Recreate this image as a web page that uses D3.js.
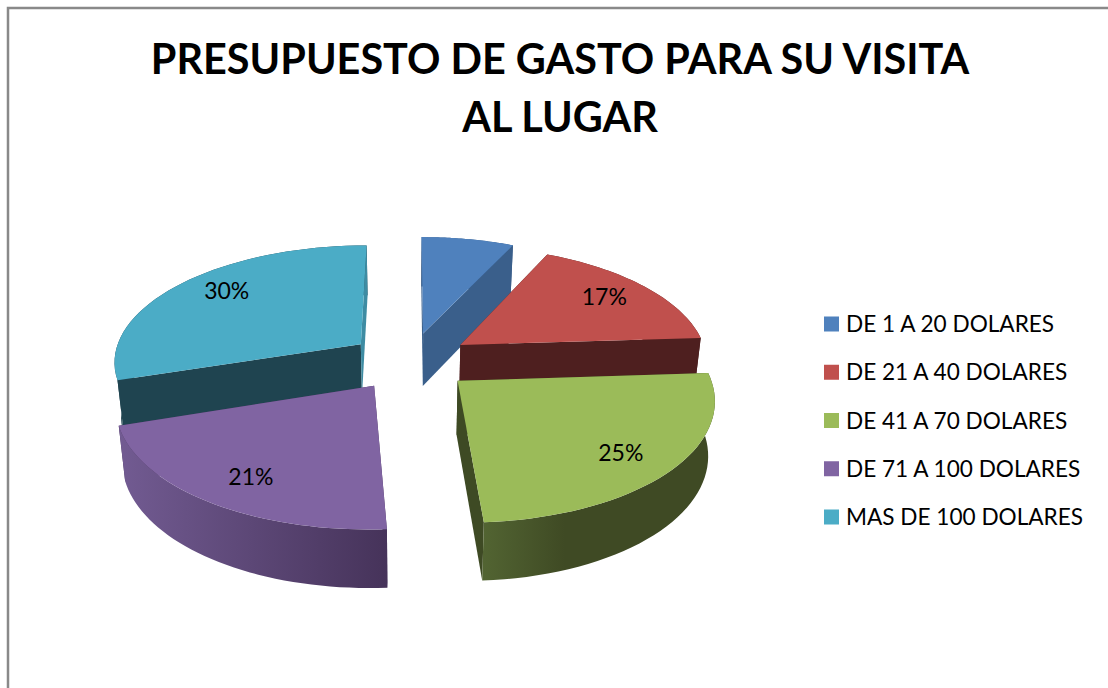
<!DOCTYPE html>
<html>
<head>
<meta charset="utf-8">
<script src="https://cdn.jsdelivr.net/npm/d3@7"></script>
<style>
  html, body { margin: 0; padding: 0; background: #fff; overflow: hidden; }
  text { font-family: Lato, "Open Sans", sans-serif; fill: #000; }
</style>
</head>
<body>
<div class="pie-chart"></div>
<script>
const categories = ['DE 1 A 20 DOLARES', 'DE 21 A 40 DOLARES', 'DE 41 A 70 DOLARES', 'DE 71 A 100 DOLARES', 'MAS DE 100 DOLARES']
const values = [7, 17, 25, 21, 30]
// the blue slice has no label in the original
const labels = [null, '17%', '25%', '21%', '30%']
const titleLines = ['PRESUPUESTO DE GASTO PARA SU VISITA', 'AL LUGAR']

const topColors = ['#4f81bd', '#c0504d', '#9bbb59', '#8064a2', '#4bacc6']
const cutColors = ['#3a5f8b', '#4e1f1f', '#3e4a24', '#46335a', '#1f4450']
const edgeColors = ['#3a5f8b', '#4e1f1f', '#3e4a24', '#46335a', '#3e8ca3']
const arcStops = [
  ['#3a5f8b', '#3a5f8b'],
  ['#4e1f1f', '#4e1f1f'],
  ['#526432', '#3f4a24'],
  ['#725b92', '#46335a'],
  ['#1f4450', '#1f4450'],
]
const labelNudge = [[0, 0], [-5, 0], [-5, 3], [7, 1], [11, -4]]

const width = 1108
const height = 688

// fake 3d: tilted plane seen through a weak perspective
const cx = 410
const cy = 361
const radius = 248
const explode = 62
const sinT = 0.47
const cosT = Math.sqrt(1 - sinT * sinT)
const camera = 1600
const wallH = 53.5
const converge = 0.022

const scaleAt = (Y) => camera / (camera + Y * cosT)

const project = (X, Y) => {
  const s = scaleAt(Y)
  return {x: cx + X * s, y: cy - Y * sinT * s, s}
}

const lower = (p) => ({
  x: cx + (p.x - cx) * (1 - converge),
  y: p.y + wallH * Math.pow(p.s, 0.5),
})

const svg = d3.select('.pie-chart')
  .append('svg')
    .attr('width', width)
    .attr('height', height)
    .style('display', 'block')

// frame runs off the right and bottom of the picture
svg.append('rect')
  .attr('x', 8)
  .attr('y', 8)
  .attr('width', width + 20)
  .attr('height', height + 20)
  .style('fill', 'none')
  .style('stroke', '#898989')
  .style('stroke-width', 2.5)

svg.selectAll('.title')
    .data(titleLines)
  .enter().append('text')
    .attr('class', 'title')
    .attr('x', 560)
    .attr('y', (d, i) => 74 + i * 58)
    .attr('text-anchor', 'middle')
    .style('font-weight', 700)
    .style('font-size', '41.4px')
    .text((d) => d)

const line = d3.line().x((p) => p.x).y((p) => p.y)

const slices = d3.pie().sort(null).startAngle(0).endAngle(2 * Math.PI)(values)
  .map((d, i) => {
    const mid = (d.startAngle + d.endAngle) / 2
    const ox = explode * Math.sin(mid)
    const oy = explode * Math.cos(mid)
    const at = (r, a) => project(ox + r * Math.sin(a), oy + r * Math.cos(a))
    const steps = d3.range(0, 41).map((t) => d.startAngle + (d.endAngle - d.startAngle) * t / 40)
    return {i, mid, oy, at, steps}
  })

const defs = svg.append('defs')

// back slices first so the front ones cover them
const ordered = d3.sort(slices, (a, b) => d3.descending(a.oy, b.oy))

const groups = svg.selectAll('.slice')
    .data(ordered)
  .enter().append('g')
    .attr('class', 'slice')

groups.each(function (d) {
  const g = d3.select(this)
  const vertex = d.at(0, 0)
  const rim = d.steps.map((a) => d.at(radius, a))
  const a0 = rim[0]
  const a1 = rim[rim.length - 1]

  const grad = defs.append('linearGradient')
    .attr('id', `wall-${d.i}`)
    .attr('gradientUnits', 'userSpaceOnUse')
    .attr('x1', d3.min(rim, (p) => p.x))
    .attr('x2', d3.max(rim, (p) => p.x))
    .attr('y1', 0)
    .attr('y2', 0)
  grad.append('stop').attr('offset', 0).attr('stop-color', arcStops[d.i][0])
  grad.append('stop').attr('offset', d.i === 2 ? 0.35 : 1).attr('stop-color', arcStops[d.i][1])

  const drawCut0 = () => g.append('path')
    .attr('d', line([vertex, a0, lower(a0), lower(vertex)]) + 'Z')
    .style('fill', cutColors[d.i])
  const drawCut1 = () => g.append('path')
    .attr('d', line([vertex, a1, lower(a1), lower(vertex)]) + 'Z')
    .style('fill', edgeColors[d.i])
  const drawRim = () => g.append('path')
    .attr('d', line(rim.concat(rim.map(lower).reverse())) + 'Z')
    .style('fill', `url(#wall-${d.i})`)

  // the outer wall faces us on front slices and away on back ones
  if (d.oy > 0) {
    drawRim()
    drawCut0()
    drawCut1()
  } else {
    drawCut0()
    drawCut1()
    drawRim()
  }

  g.append('path')
    .attr('d', line([vertex].concat(rim)) + 'Z')
    .style('fill', topColors[d.i])
})

// percent labels sit on top of every slice
svg.selectAll('.pct')
    .data(slices.filter((d) => labels[d.i]))
  .enter().append('text')
    .attr('class', 'pct')
    .attr('x', (d) => d.at(radius * 0.8, d.mid).x + labelNudge[d.i][0])
    .attr('y', (d) => d.at(radius * 0.8, d.mid).y + 8 + labelNudge[d.i][1])
    .attr('text-anchor', 'middle')
    .style('font-size', '23px')
    .text((d) => labels[d.i])

// Legend

const legendY = d3.scalePoint()
  .domain(categories)
  .range([324, 517])

const legend = svg.selectAll('.legend')
    .data(categories)
  .enter().append('g')
    .attr('class', 'legend')
    .attr('transform', (d) => `translate(824,${legendY(d)})`)

legend.append('rect')
  .attr('y', -7.5)
  .attr('width', 15)
  .attr('height', 15)
  .style('fill', (d, i) => topColors[i])

legend.append('text')
  .attr('x', 22)
  .attr('y', 8)
  .style('font-size', '22.6px')
  .text((d) => d)
</script>
</body>
</html>
